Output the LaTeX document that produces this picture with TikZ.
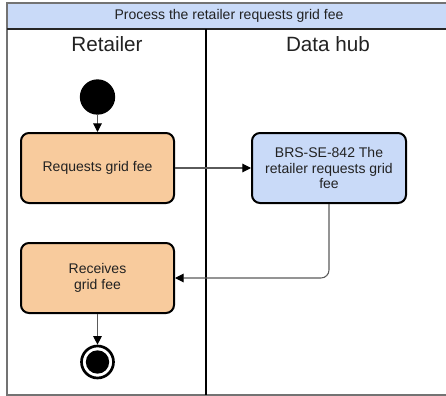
\documentclass[tikz,border=0pt]{standalone}
\usepackage{fontspec}
\setmainfont{Liberation Sans}
\usetikzlibrary{arrows.meta}
\definecolor{peach}{RGB}{248,203,157}
\definecolor{paleblue}{RGB}{201,218,248}
\definecolor{linegray}{RGB}{90,90,90}
\definecolor{txt}{RGB}{34,34,34}
\tikzset{
  actbox/.style={draw=black, line width=1.5pt, rounded corners=6pt, minimum width=114.75pt, minimum height=52.5pt, align=center, font=\fontsize{10.5}{11.6}\selectfont, text=txt, inner sep=2pt},
  flow/.style={draw=linegray, line width=0.8pt, -{Triangle[length=6.5pt,width=6.5pt,color=black,fill=black]}},
  lanetitle/.style={font=\fontsize{15.5}{18}\selectfont, text=txt, inner sep=0pt},
}
\begin{document}
\begin{tikzpicture}[x=0.75pt,y=-0.75pt]
\useasboundingbox (0,0) rectangle (446,396);
% pool
\fill[paleblue] (7,3) rectangle (452,29);
\draw[line width=1.2pt, draw=black!55] (452,3) -- (7,3) -- (7,395) -- (452,395);
\draw[line width=1.5pt, draw=black!85] (7,29) -- (452,29);
\draw[line width=1.8pt, draw=black] (206,29) -- (206,395);
\node[font=\fontsize{10.5}{12}\selectfont, text=txt, inner sep=0pt] (pooltitle) at (229,16) {Process the retailer requests grid fee};
\node[lanetitle] (lane1) at (107,44) {Retailer};
\node[lanetitle] (lane2) at (328,44) {Data hub};
% nodes
\node[circle, fill=black, minimum size=26.5pt, inner sep=0pt] (start) at (97.5,97) {};
\node[actbox, fill=peach] (req) at (97.5,168) {Requests grid fee};
\node[actbox, fill=paleblue, minimum width=115.5pt] (brs) at (329,168) {BRS-SE-842 The\\retailer requests grid\\fee};
\node[actbox, fill=peach] (rec) at (97.5,278) {Receives\\grid fee};
\node[circle, draw=black, line width=2pt, fill=white, minimum size=24pt, inner sep=0pt] (end) at (97.5,362) {};
\node[circle, fill=black, minimum size=17.5pt, inner sep=0pt] (endin) at (end.center) {};
% connectors
\draw[flow] (start) -- (req);
\draw[flow] (req) -- (brs);
\draw[flow, rounded corners=6pt] (brs.south) |- (rec.east);
\draw[flow] (rec) -- (end);
\end{tikzpicture}
\end{document}
